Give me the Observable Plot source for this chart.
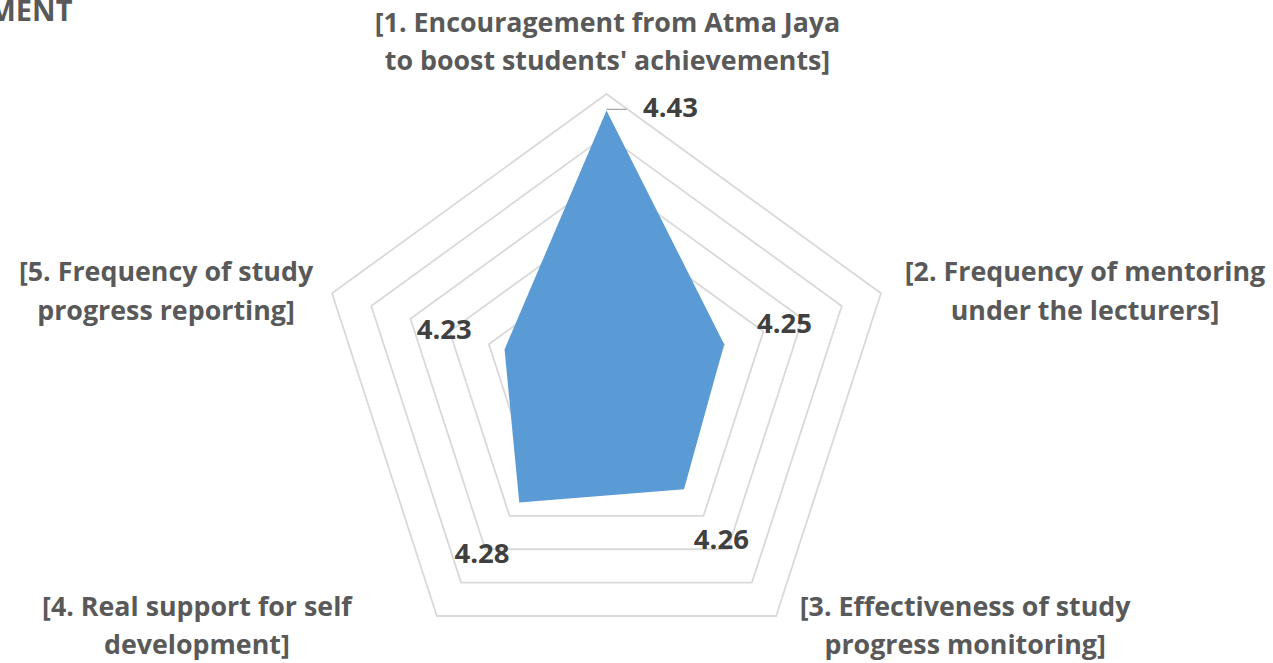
<!DOCTYPE html>
<html><head><meta charset="utf-8">
<script src="https://cdn.jsdelivr.net/npm/d3@7"></script>
<script src="https://cdn.jsdelivr.net/npm/@observablehq/plot@0.6"></script>
<style>
html,body{margin:0;padding:0;background:#fff;overflow:hidden;}
#chart svg{display:block;}
</style></head><body><div id="chart"></div>
<script>
// ---- data ----
const categories = [
  "[1. Encouragement from Atma Jaya\nto boost students' achievements]",
  "[2. Frequency of mentoring\nunder the lecturers]",
  "[3. Effectiveness of study\nprogress monitoring]",
  "[4. Real support for self\ndevelopment]",
  "[5. Frequency of study\nprogress reporting]"
];
const values = [4.43, 4.25, 4.26, 4.28, 4.23];
const valueLabels = ["4.43", "4.25", "4.26", "4.28", "4.23"];
const ringLevels = [4.15, 4.2, 4.25, 4.3, 4.35, 4.4, 4.45];
const axisMin = 4.1, axisMax = 4.45;
const titleText = "MENT";

// ---- helpers (polar -> cartesian in scale units) ----
const n = categories.length;
const ang = i => (i / n) * 2 * Math.PI;
const rad = v => (v - axisMin) / (axisMax - axisMin);
const X = (r, i) => r * Math.sin(ang(i));
const Y = (r, i) => r * Math.cos(ang(i));

const ringData = ringLevels.flatMap(l => categories.map((c, i) => ({level: l, x: X(rad(l), i), y: Y(rad(l), i)})));
const polyData = values.map((v, i) => ({x: X(rad(v), i), y: Y(rad(v), i)}));
const lblData = values.map((v, i) => ({i, label: valueLabels[i], x: X(rad(v) + 0.22, i), y: Y(rad(v) + 0.22, i)}));
const catData = categories.map((c, i) => ({i, label: c, x: X(1, i), y: Y(1, i)}));

const catOffsets = [
  {dx: 1, dy: -55},
  {dx: 204, dy: -5},
  {dx: 189, dy: 7},
  {dx: -240, dy: 7},
  {dx: -166, dy: -5}
];

const cx = 606, cy = 382, R = 288.6;
const font = "'Open Sans', sans-serif";

const chart = Plot.plot({
  width: 1273,
  height: 663,
  margin: 0,
  style: {fontFamily: font, background: "#fff", overflow: "visible"},
  x: {domain: [-1, 1], range: [cx - R, cx + R], axis: null},
  y: {domain: [-1, 1], range: [cy + R, cy - R], axis: null},
  marks: [
    Plot.line(ringData, {x: "x", y: "y", z: "level", curve: "linear-closed", stroke: "#d9d9d9", strokeWidth: 1.8}),
    Plot.line(polyData, {x: "x", y: "y", curve: "linear-closed", fill: "#5b9bd5", stroke: "none"}),
    // leader line for the top label
    Plot.link(polyData.slice(0, 1), {x1: "x", y1: "y", x2: d => d.x + 20 / R, y2: "y", stroke: "#a6a6a6", strokeWidth: 1.3, dy: -1}),
    Plot.text(polyData.slice(0, 1), {x: "x", y: "y", text: () => valueLabels[0], dx: 64, dy: -2, fontSize: 27.5, fontWeight: 700, fill: "#404040"}),
    Plot.text(lblData.slice(1), {x: "x", y: "y", text: "label", fontSize: 27.5, fontWeight: 700, fill: "#404040"}),
    ...catData.map((d, i) => Plot.text([d], {x: "x", y: "y", text: "label", dx: catOffsets[i].dx, dy: catOffsets[i].dy, fontSize: 26.8, fontWeight: 700, fill: "#595959", lineHeight: 1.42, textAnchor: "middle"})),
    Plot.text([titleText], {frameAnchor: "top-left", text: d => d, dx: 72, dy: 0, textAnchor: "end", lineAnchor: "top", fontSize: 29, fontWeight: 700, fill: "#595959"})
  ]
});
document.getElementById("chart").append(chart);
</script></body></html>
